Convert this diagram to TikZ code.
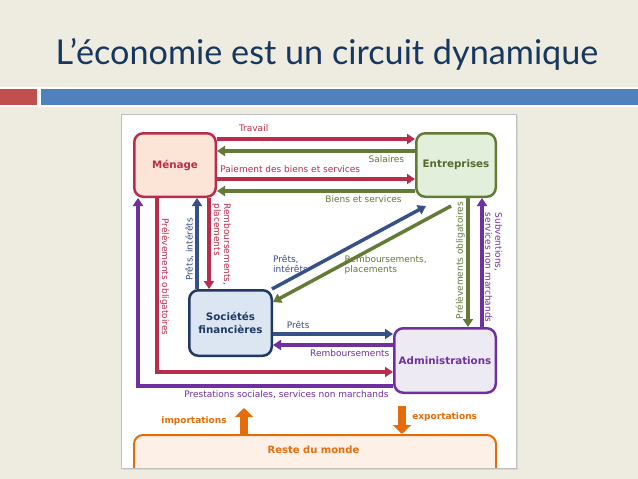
\documentclass[tikz,border=0pt]{standalone}
\usepackage{fontspec}
\setmainfont{DejaVu Sans}
\newfontfamily\titlefont{Lato}
\usetikzlibrary{arrows.meta}

\definecolor{slidebg}{RGB}{238,236,225}
\definecolor{titleblue}{RGB}{23,55,94}
\definecolor{barred}{RGB}{192,80,77}
\definecolor{barblue}{RGB}{79,129,189}
\definecolor{menred}{RGB}{185,45,75}
\definecolor{menfill}{RGB}{252,228,214}
\definecolor{entgreen}{RGB}{100,122,55}
\definecolor{entfill}{RGB}{226,239,218}
\definecolor{socblue}{RGB}{31,56,100}
\definecolor{socarrow}{RGB}{55,80,135}
\definecolor{socfill}{RGB}{220,230,242}
\definecolor{admpurple}{RGB}{112,48,160}
\definecolor{admfill}{RGB}{238,234,244}
\definecolor{rdmorange}{RGB}{228,108,10}
\definecolor{rdmfill}{RGB}{253,240,230}

\begin{document}
\begin{tikzpicture}[x=1pt,y=-1pt,>={Triangle[length=8pt,width=10pt]},
    agent/.style={draw,line width=2.5pt,rounded corners=9pt,font=\bfseries\fontsize{10.3}{13}\selectfont},
    flux/.style={->,line width=3.5pt},
    lbl/.style={font=\fontsize{9}{10}\selectfont,inner sep=1.5pt},
    bigflux/.style={line width=8pt,rdmorange,-{Triangle[length=9pt,width=18pt]}}]
        \useasboundingbox (0,0) rectangle (638,479);
        \fill[slidebg] (0,0) rectangle (638,479);
        \fill[white] (0,87) rectangle (638,107);
        \fill[barred] (0,89) rectangle (37,105);
        \fill[barblue] (41,89) rectangle (638,105);
        \node[anchor=base,text=titleblue,font=\titlefont\fontsize{34.2}{40}\selectfont] (titre) at (327,64) {L’économie est un circuit dynamique};
        % panneau
        \fill[black!15] (123,116) rectangle (518,470);
        \fill[white] (121,114) rectangle (516,468);
        \node[agent,draw=menred,fill=menfill,text=menred,minimum width=81.5pt,minimum height=63.5pt] (men) at (175,165) {Ménage};
        \node[agent,draw=entgreen,fill=entfill,text=entgreen!85!black,minimum width=79.5pt,minimum height=63.5pt] (ent) at (456,165) {Entreprises};
        \node[agent,draw=socblue,fill=socfill,text=socblue,align=center,minimum width=82.5pt,minimum height=65.5pt] (soc) at (230.5,323) {Sociétés\\financières};
        \node[agent,draw=admpurple,fill=admfill,text=admpurple,minimum width=101.5pt,minimum height=64.5pt] (adm) at (445,360.5) {Administrations};
        \begin{scope}
            \clip (121,114) rectangle (516,468);
            \node[agent,line width=2pt,draw=rdmorange,fill=rdmfill,minimum width=362pt,minimum height=42pt] (rdm) at (315,456) {};
        \end{scope}
        \draw[black!25] (121,114) rectangle (516,468);
        \node[text=rdmorange,font=\bfseries\fontsize{10}{12}\selectfont] (rdmtxt) at (313.5,450) {Reste du monde};
        % menage <-> entreprises
        \draw[flux,menred] ([yshift=26pt]men.east) -- ([yshift=26pt]ent.west) node[lbl,pos=0.185,above=4pt] {Travail};
        \draw[flux,entgreen] ([yshift=14pt]ent.west) -- ([yshift=14pt]men.east) node[lbl,pos=0.145,below=1.5pt] {Salaires};
        \draw[flux,menred] ([yshift=-14pt]men.east) -- ([yshift=-14pt]ent.west) node[lbl,pos=0.37,above=3pt] {Paiement des biens et services};
        \draw[flux,entgreen] ([yshift=-26pt]ent.west) -- ([yshift=-26pt]men.east) node[lbl,pos=0.26,below=1.5pt] {Biens et services};
        % menage <-> societes
        \draw[flux,socarrow] ([xshift=-33.5pt]soc.north) -- ([xshift=-33.5pt]soc.north |- men.south) node[lbl,pos=0.435,rotate=90,anchor=south] {Prêts, intérêts};
        \draw[flux,menred] ([xshift=-21.5pt]soc.north |- men.south) -- ([xshift=-21.5pt]soc.north) node[lbl,pos=0.51,rotate=-90,anchor=south,align=left] {Remboursements,\\placements};
        % menage <-> administrations
        \draw[flux,menred] ([xshift=-18pt]men.south) |- ([yshift=-11.5pt]adm.west) node[lbl,pos=0.227,rotate=-90,anchor=south] {Prélèvements obligatoires};
        \draw[flux,admpurple] ([yshift=-25.5pt]adm.west) -| ([xshift=-37pt]men.south) node[lbl,pos=0.209,below=1.5pt] {Prestations sociales, services non marchands};
        % entreprises <-> administrations
        \draw[flux,entgreen] ([xshift=12pt]ent.south) -- ([xshift=12pt]ent.south |- adm.north) node[lbl,pos=0.485,rotate=90,anchor=south] {Prélèvements obligatoires};
        \draw[flux,admpurple] ([xshift=26pt]ent.south |- adm.north) -- ([xshift=26pt]ent.south) node[lbl,pos=0.46,rotate=-90,anchor=south,align=left] {Subventions,\\services non marchands};
        % societes <-> administrations
        \draw[flux,socarrow] ([yshift=-11pt]soc.east) -- ([yshift=-11pt]soc.east -| adm.west) node[lbl,pos=0.21,above=2pt] {Prêts};
        \draw[flux,admpurple] ([yshift=-22pt]soc.east -| adm.west) -- ([yshift=-22pt]soc.east) node[lbl,pos=0.36,below=1pt] {Remboursements};
        % societes <-> entreprises
        \draw[flux,socarrow] ([xshift=-1pt]soc.north east) -- ([shift={(11pt,-8pt)}]ent.south west) node[lbl,pos=0.12,yshift=15pt,align=left] {Prêts,\\intérêts};
        \draw[flux,entgreen] ([shift={(36pt,-8pt)}]ent.south west) -- ([yshift=21pt]soc.east) node[lbl,pos=0.367,yshift=-23.5pt,align=left] {Remboursements,\\placements};
        % reste du monde
        \draw[bigflux] ([xshift=-71pt]rdm.north) -- ([xshift=-71pt,yshift=26pt]rdm.north) node[midway,left=10pt,font=\bfseries\fontsize{9}{10}\selectfont] {importations};
        \draw[bigflux] ([xshift=87pt,yshift=28pt]rdm.north) -- ([xshift=87pt]rdm.north) node[pos=0.39,right=3pt,font=\bfseries\fontsize{9}{10}\selectfont] {exportations};
    \end{tikzpicture}
\end{document}
